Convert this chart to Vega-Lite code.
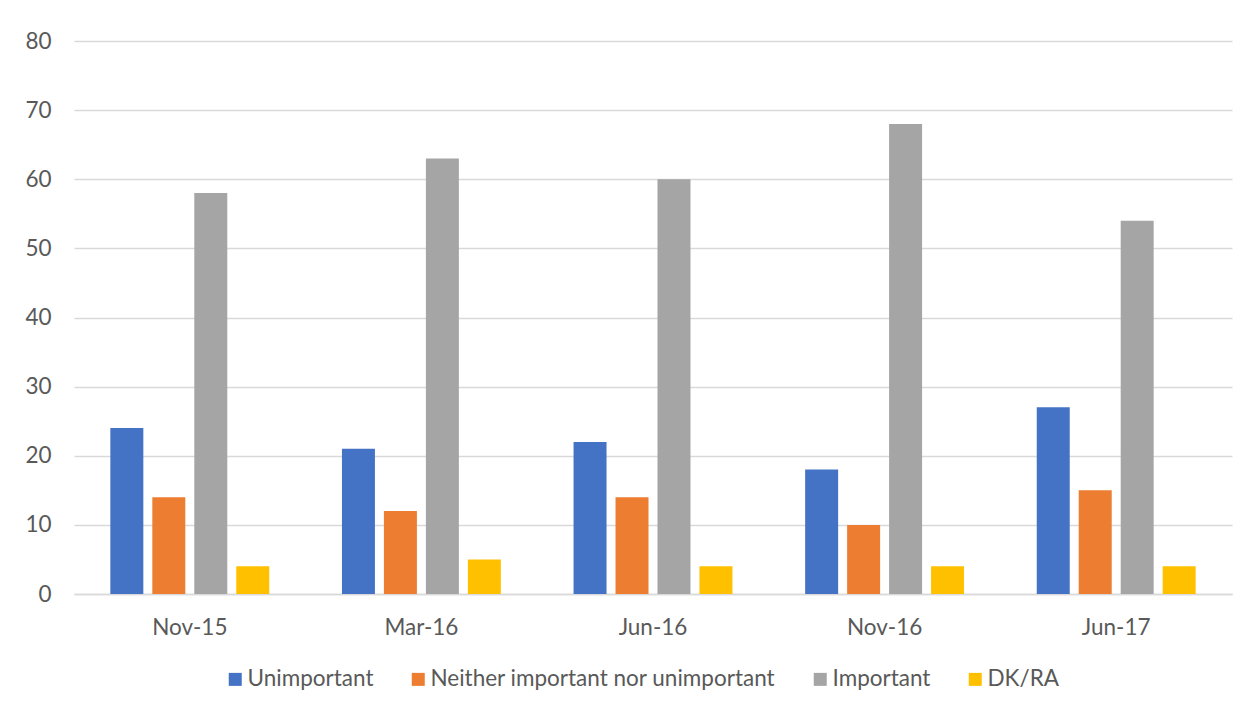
{
  "$schema": "https://vega.github.io/schema/vega-lite/v6.json",
  "width": 1158,
  "height": 553,
  "autosize": "none",
  "padding": {"left": 74, "top": 41, "right": 26, "bottom": 115},
  "background": "white",
  "data": {
    "values": [
      {"period": "Nov-15", "response": "Unimportant", "value": 24},
      {"period": "Nov-15", "response": "Neither important nor unimportant", "value": 14},
      {"period": "Nov-15", "response": "Important", "value": 58},
      {"period": "Nov-15", "response": "DK/RA", "value": 4},
      {"period": "Mar-16", "response": "Unimportant", "value": 21},
      {"period": "Mar-16", "response": "Neither important nor unimportant", "value": 12},
      {"period": "Mar-16", "response": "Important", "value": 63},
      {"period": "Mar-16", "response": "DK/RA", "value": 5},
      {"period": "Jun-16", "response": "Unimportant", "value": 22},
      {"period": "Jun-16", "response": "Neither important nor unimportant", "value": 14},
      {"period": "Jun-16", "response": "Important", "value": 60},
      {"period": "Jun-16", "response": "DK/RA", "value": 4},
      {"period": "Nov-16", "response": "Unimportant", "value": 18},
      {"period": "Nov-16", "response": "Neither important nor unimportant", "value": 10},
      {"period": "Nov-16", "response": "Important", "value": 68},
      {"period": "Nov-16", "response": "DK/RA", "value": 4},
      {"period": "Jun-17", "response": "Unimportant", "value": 27},
      {"period": "Jun-17", "response": "Neither important nor unimportant", "value": 15},
      {"period": "Jun-17", "response": "Important", "value": 54},
      {"period": "Jun-17", "response": "DK/RA", "value": 4}
    ]
  },
  "mark": {"type": "bar"},
  "encoding": {
    "x": {
      "field": "period",
      "type": "nominal",
      "sort": ["Nov-15", "Mar-16", "Jun-16", "Nov-16", "Jun-17"],
      "scale": {"paddingInner": 0, "paddingOuter": 0},
      "axis": {
        "title": null,
        "labelAngle": 0,
        "ticks": false,
        "domainColor": "#D9D9D9",
        "domainWidth": 1.5,
        "labelPadding": 22,
        "labelFontSize": 22.5,
        "labelColor": "#595959",
        "labelFont": "Lato",
        "grid": false
      }
    },
    "xOffset": {
      "field": "response",
      "type": "nominal",
      "sort": ["Unimportant", "Neither important nor unimportant", "Important", "DK/RA"],
      "scale": {"paddingInner": 0.214, "paddingOuter": 0.866}
    },
    "y": {
      "field": "value",
      "type": "quantitative",
      "scale": {"domain": [0, 80]},
      "axis": {
        "title": null,
        "values": [0, 10, 20, 30, 40, 50, 60, 70, 80],
        "domain": false,
        "ticks": false,
        "gridColor": "#D9D9D9",
        "gridWidth": 1.5,
        "labelPadding": 23,
        "labelFontSize": 22.5,
        "labelColor": "#595959",
        "labelFont": "Lato"
      }
    },
    "color": {
      "field": "response",
      "type": "nominal",
      "sort": ["Unimportant", "Neither important nor unimportant", "Important", "DK/RA"],
      "scale": {
        "domain": ["Unimportant", "Neither important nor unimportant", "Important", "DK/RA"],
        "range": ["#4472C4", "#ED7D31", "#A5A5A5", "#FFC000"]
      },
      "legend": {
        "title": null,
        "orient": "none",
        "direction": "horizontal",
        "legendX": 150,
        "legendY": 627,
        "symbolType": "square",
        "symbolSize": 169,
        "symbolStrokeWidth": 0,
        "symbolOpacity": 1,
        "labelFontSize": 22.5,
        "labelColor": "#595959",
        "labelFont": "Lato",
        "labelOffset": 1,
        "columnPadding": 33,
        "labelLimit": 500
      }
    }
  },
  "config": {
    "view": {"stroke": null}
  }
}
